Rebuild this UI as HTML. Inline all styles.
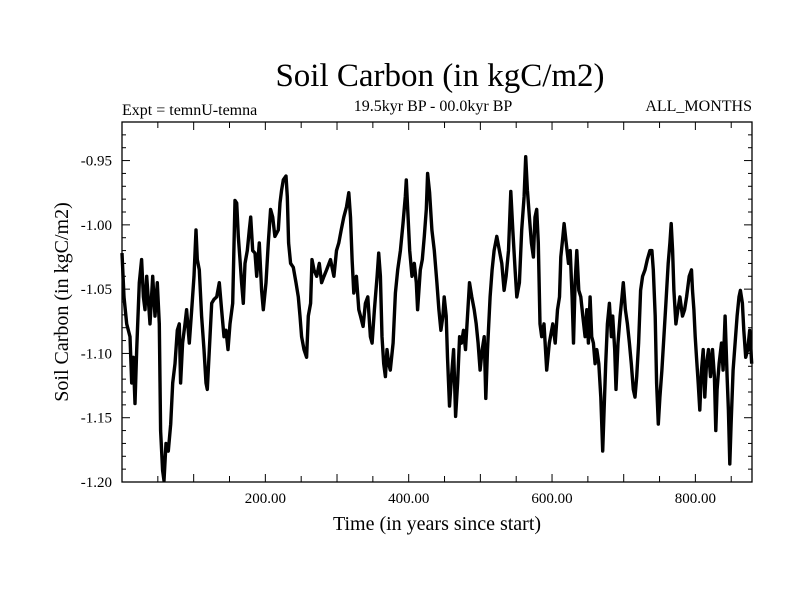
<!DOCTYPE html>
<html><head><meta charset="utf-8"><style>
html,body{margin:0;padding:0;background:#fff;}
svg{display:block;font-family:"Liberation Serif",serif;}
</style></head><body>
<svg id="chart" width="800" height="600" viewBox="0 0 800 600">
<rect width="800" height="600" fill="#fff"/>
<text x="440" y="86" font-size="33" text-anchor="middle">Soil Carbon (in kgC/m2)</text>
<text x="122" y="115" font-size="16">Expt = temnU-temna</text>
<text x="433" y="111" font-size="16" text-anchor="middle">19.5kyr BP - 00.0kyr BP</text>
<text x="752" y="111" font-size="16" text-anchor="end">ALL_MONTHS</text>
<text x="437" y="530" font-size="20" text-anchor="middle">Time (in years since start)</text>
<text transform="translate(68,302) rotate(-90)" font-size="20" text-anchor="middle">Soil Carbon (in kgC/m2)</text>
<g id="axes"></g>
<g id="series"></g>
<rect x="122" y="122" width="630" height="360" fill="none" stroke="#000" stroke-width="1.3"/>
</svg>
<script>
const years = [0,2.8,6.5,11.2,13.5,15.8,18.1,20.5,24.2,27.4,29.8,32.1,34.4,39.1,42.8,46.0,49.3,52.1,53.9,56.7,58.6,61.4,64.6,67.9,70.7,73.9,77.2,80.0,81.8,84.6,87.9,90.2,93.9,97.2,100.4,103.2,105.1,107.9,111.1,114.4,117.2,119.0,122.8,125.1,128.3,132.1,135.8,139.0,142.3,145.1,147.9,150.7,154.4,157.6,160.0,162.3,164.6,166.9,169.3,171.6,174.8,177.6,179.5,182.3,185.5,187.9,191.6,194.8,197.2,200.9,204.1,207.4,210.2,213.4,218.1,220.4,222.7,225.1,228.8,230.6,232.5,235.3,239.0,242.8,246.0,248.3,250.6,253.9,257.6,260.0,263.2,265.1,267.9,271.6,275.3,278.5,281.8,285.5,
290.9,295.6,299.3,302.5,305.8,309.5,313.2,316.4,318.8,321.1,323.4,327.1,330.4,332.7,336.4,339.6,342.9,346.6,348.9,352.2,355.9,358.2,360.5,362.8,365.2,367.5,369.8,372.1,374.4,378.2,381.4,384.6,388.4,392.1,395.3,396.7,398.6,401.4,404.6,407.8,410.6,412.5,416.2,419.0,421.8,424.6,426.4,429.2,432.4,435.7,439.4,442.2,445.0,447.8,449.6,452.4,454.2,457.0,459.8,462.6,465.4,468.2,471.0,473.7,476.5,479.3,482.1,484.9,488.1,491.4,494.2,496.9,499.7,502.5,505.3,507.6,509.9,513.6,516.4,519.2,522.9,526.6,529.9,533.1,535.9,539.2,542.4,545.2,548.4,550.8,554.5,557.7,561.0,563.3,565.6,568.4,571.2,574.0,576.3,578.6,580.9,583.2,585.6,588.8,592.5,596.2,
601.1,604.4,607.6,610.4,612.3,615.1,616.9,619.7,623.0,625.3,628.0,629.9,632.2,634.5,637.3,640.1,642.9,646.1,648.5,650.8,653.1,655.4,657.7,660.1,662.4,665.2,668.0,670.7,672.6,674.9,677.2,680.0,682.8,684.7,687.4,689.3,692.1,694.9,697.6,699.5,702.3,705.1,707.9,710.6,713.4,715.7,718.1,720.8,723.6,726.4,729.7,732.9,736.6,739.4,741.3,744.0,745.9,748.2,750.5,753.3,756.1,758.9,762.1,764.5,766.3,768.2,770.0,772.8,775.6,778.4,782.1,784.9,787.7,791.4,794.6,796.0,797.9,799.7,801.6,803.9,806.2,808.5,810.9,813.2,815.5,818.3,821.1,823.9,826.6,828.5,830.3,833.1,836.4,838.7,841.5,844.3,846.1,848.0,849.8,852.6,855.4,858.2,860.9,862.8,865.6,867.5,870.2,873.0,875.8,878.6];
const carbon = [-1.022,-1.056,-1.077,-1.087,-1.123,-1.103,-1.139,-1.097,-1.045,-1.027,-1.056,-1.066,-1.040,-1.077,-1.040,-1.071,-1.045,-1.077,-1.160,-1.191,-1.199,-1.170,-1.176,-1.155,-1.123,-1.108,-1.082,-1.077,-1.123,-1.092,-1.077,-1.066,-1.092,-1.066,-1.040,-1.004,-1.027,-1.035,-1.071,-1.097,-1.123,-1.128,-1.087,-1.061,-1.058,-1.056,-1.045,-1.066,-1.087,-1.082,-1.097,-1.077,-1.061,-0.981,-0.983,-1.009,-1.027,-1.045,-1.061,-1.030,-1.020,-1.004,-0.994,-1.020,-1.022,-1.040,-1.014,-1.051,-1.066,-1.045,-1.014,-0.988,-0.994,-1.009,-1.004,-0.983,-0.973,-0.965,-0.962,-0.978,-1.014,-1.030,-1.033,-1.045,-1.056,-1.071,-1.087,-1.097,-1.103,-1.071,-1.061,-1.027,-1.035,-1.040,-1.030,-1.045,-1.040,-1.035,
-1.027,-1.040,-1.020,-1.014,-1.004,-0.994,-0.986,-0.975,-0.994,-1.027,-1.053,-1.040,-1.066,-1.071,-1.079,-1.061,-1.056,-1.087,-1.092,-1.066,-1.040,-1.022,-1.040,-1.087,-1.108,-1.118,-1.097,-1.108,-1.113,-1.092,-1.053,-1.035,-1.020,-0.999,-0.978,-0.965,-0.988,-1.020,-1.040,-1.030,-1.045,-1.066,-1.035,-1.027,-1.009,-0.988,-0.960,-0.975,-1.004,-1.020,-1.045,-1.066,-1.082,-1.071,-1.056,-1.071,-1.103,-1.141,-1.118,-1.097,-1.149,-1.123,-1.087,-1.092,-1.082,-1.097,-1.071,-1.045,-1.056,-1.066,-1.077,-1.092,-1.113,-1.097,-1.087,-1.135,-1.097,-1.056,-1.035,-1.020,-1.009,-1.020,-1.030,-1.051,-1.040,-1.020,-0.974,-1.004,-1.035,-1.056,-1.045,-1.004,-0.978,-0.947,-0.973,-0.994,-1.014,-1.025,-0.994,-0.988,-1.014,-1.077,-1.087,-1.077,-1.113,-1.092,
-1.077,-1.092,-1.066,-1.056,-1.025,-1.009,-0.999,-1.014,-1.030,-1.020,-1.056,-1.092,-1.045,-1.020,-1.051,-1.056,-1.071,-1.087,-1.066,-1.092,-1.056,-1.087,-1.092,-1.108,-1.097,-1.108,-1.134,-1.176,-1.144,-1.108,-1.077,-1.061,-1.087,-1.071,-1.097,-1.128,-1.092,-1.071,-1.056,-1.045,-1.066,-1.077,-1.092,-1.108,-1.128,-1.134,-1.118,-1.092,-1.051,-1.040,-1.035,-1.027,-1.020,-1.020,-1.035,-1.071,-1.123,-1.155,-1.134,-1.113,-1.087,-1.061,-1.030,-1.014,-0.999,-1.020,-1.051,-1.077,-1.066,-1.056,-1.071,-1.066,-1.056,-1.040,-1.035,-1.051,-1.066,-1.087,-1.103,-1.123,-1.144,-1.113,-1.097,-1.134,-1.108,-1.097,-1.118,-1.097,-1.118,-1.160,-1.128,-1.108,-1.092,-1.113,-1.071,-1.118,-1.144,-1.186,-1.155,-1.113,-1.092,-1.071,-1.056,-1.051,-1.061,-1.082,-1.103,-1.097,-1.082,-1.108];
const xTickLabels = [200,400,600,800];
const yTickLabels = [-0.95,-1.00,-1.05,-1.10,-1.15,-1.20];

const X0=122,X1=752,Y0=122,Y1=482;
const xMin=0,xMax=879,yMin=-1.20,yMax=-0.92;
function xs(v){return X0+(v-xMin)/(xMax-xMin)*(X1-X0);}
function ys(v){return Y1-(v-yMin)/(yMax-yMin)*(Y1-Y0);}
const NS="http://www.w3.org/2000/svg";
const axes=document.getElementById('axes');
function ln(x1,y1,x2,y2,name){
  const l=document.createElementNS(NS,'line');
  l.setAttribute('x1',x1);l.setAttribute('y1',y1);l.setAttribute('x2',x2);l.setAttribute('y2',y2);
  l.setAttribute('stroke','#000');l.setAttribute('stroke-width','1');
  
  
  axes.appendChild(l);
}
function tx(x,y,s,anchor,name){
  const t=document.createElementNS(NS,'text');
  t.setAttribute('x',x);t.setAttribute('y',y);t.setAttribute('font-size','15');t.setAttribute('text-anchor',anchor);
  t.textContent=s;
  
  
  axes.appendChild(t);
}
for(let v=50;v<xMax;v+=50){
  const x=xs(v);const L=(v%100===0)?8:6;
  ln(x,Y1,x,Y1-L,'x-tick');ln(x,Y0,x,Y0+L,'x-tick-top');
}
xTickLabels.forEach(v=>tx(xs(v),503,v.toFixed(2),'middle','x-tick-label'));
for(let i=0;i<=28;i++){
  const v=yMin+i*0.01;const major=(i%5===0);const L=major?8:4;const y=ys(v);
  ln(X0,y,X0+L,y,'y-tick');ln(X1,y,X1-L,y,'y-tick-right');
}
yTickLabels.forEach(v=>tx(112,ys(v)+5,v.toFixed(2),'end','y-tick-label'));
const g=document.getElementById('series');
let d='';
for(let i=0;i<years.length;i++){d+=(i?'L':'M')+xs(years[i]).toFixed(1)+','+ys(carbon[i]).toFixed(1);}
const p=document.createElementNS(NS,'path');
p.setAttribute('d',d);p.setAttribute('fill','none');p.setAttribute('stroke','#000');p.setAttribute('stroke-width','3.4');p.setAttribute('stroke-linejoin','round');


g.appendChild(p);
</script>
</body></html>
